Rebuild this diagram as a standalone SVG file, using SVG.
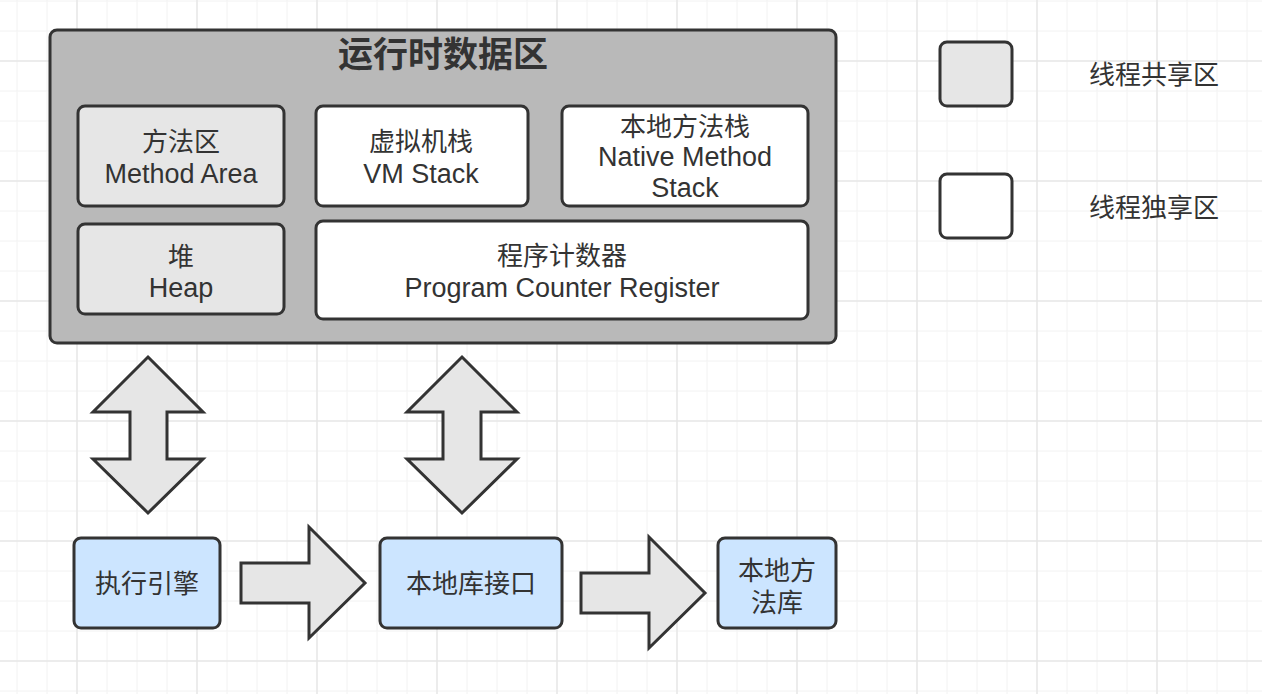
<svg xmlns="http://www.w3.org/2000/svg" width="1262" height="694" viewBox="0 0 1262 694">
<defs>
<pattern id="grid" width="120" height="120" x="2" y="-14" patternUnits="userSpaceOnUse">
<path d="M15 0V120M45 0V120M105 0V120M0 15H120M0 45H120M0 105H120" stroke="#f2f2f2" stroke-width="1" fill="none"/>
<path d="M75 0V120M0 75H120" stroke="#e6e6e6" stroke-width="1.5" fill="none"/>
</pattern>
<style>
text{font-family:"Liberation Sans","Noto Sans CJK SC",sans-serif;font-size:26px;fill:#333;text-anchor:middle}
.en{font-size:27px}
.box{stroke:#333;stroke-width:3}
.shared{fill:#e6e6e6}
.own{fill:#ffffff}
.blue{fill:#cce5ff}
.arrow{fill:#e6e6e6;stroke:#333;stroke-width:3;stroke-linejoin:miter}
.title{font-weight:bold;font-size:35px}
.legend{text-anchor:start}
</style>
</defs>
<rect width="1262" height="694" fill="#ffffff"/>
<rect width="1262" height="694" fill="url(#grid)"/>

<g id="runtime-data-area">
<rect class="box" x="50" y="30" width="786" height="313" rx="7" fill="#b9b9b9"/>
<text class="title" x="443" y="67">运行时数据区</text>
</g>

<g id="method-area">
<rect class="box shared" x="78" y="106" width="206" height="100" rx="7"/>
<text x="181" y="151">方法区</text>
<text class="en" x="181" y="183">Method Area</text>
</g>

<g id="vm-stack">
<rect class="box own" x="316" y="106" width="212" height="100" rx="7"/>
<text x="421" y="151">虚拟机栈</text>
<text class="en" x="421" y="183">VM Stack</text>
</g>

<g id="native-method-stack">
<rect class="box own" x="562" y="106" width="246" height="100" rx="7"/>
<text x="685" y="136">本地方法栈</text>
<text class="en" x="685" y="166">Native Method</text>
<text class="en" x="685" y="197">Stack</text>
</g>

<g id="heap">
<rect class="box shared" x="78" y="224" width="206" height="90" rx="7"/>
<text x="181" y="266">堆</text>
<text class="en" x="181" y="297">Heap</text>
</g>

<g id="pc-register">
<rect class="box own" x="316" y="221" width="492" height="98" rx="7"/>
<text x="562" y="265">程序计数器</text>
<text class="en" x="562" y="297">Program Counter Register</text>
</g>

<g id="execution-engine">
<rect class="box blue" x="74" y="538" width="146" height="90" rx="7"/>
<text x="147" y="593">执行引擎</text>
</g>

<g id="native-interface">
<rect class="box blue" x="380" y="538" width="182" height="90" rx="7"/>
<text x="471" y="593">本地库接口</text>
</g>

<g id="native-library">
<rect class="box blue" x="718" y="538" width="118" height="90" rx="7"/>
<text x="777" y="580">本地方</text>
<text x="777" y="612">法库</text>
</g>

<g id="legend-shared">
<rect class="box shared" x="940" y="42" width="72" height="64" rx="7"/>
<text class="legend" x="1089" y="84">线程共享区</text>
</g>

<g id="legend-own">
<rect class="box own" x="940" y="174" width="72" height="64" rx="7"/>
<text class="legend" x="1089" y="217">线程独享区</text>
</g>

<g id="connectors">
<path class="arrow" d="M148 357L203 412H167V459H203L148 513L93 459H130V412H93Z"/>
<path class="arrow" d="M462 357L517 412H481V459H517L462 513L407 459H443V412H407Z"/>
<path class="arrow" d="M241 563H309V527L365 583L309 638V603H241Z"/>
<path class="arrow" d="M581 573H649V537L705 593L649 648V613H581Z"/>
</g>
</svg>
